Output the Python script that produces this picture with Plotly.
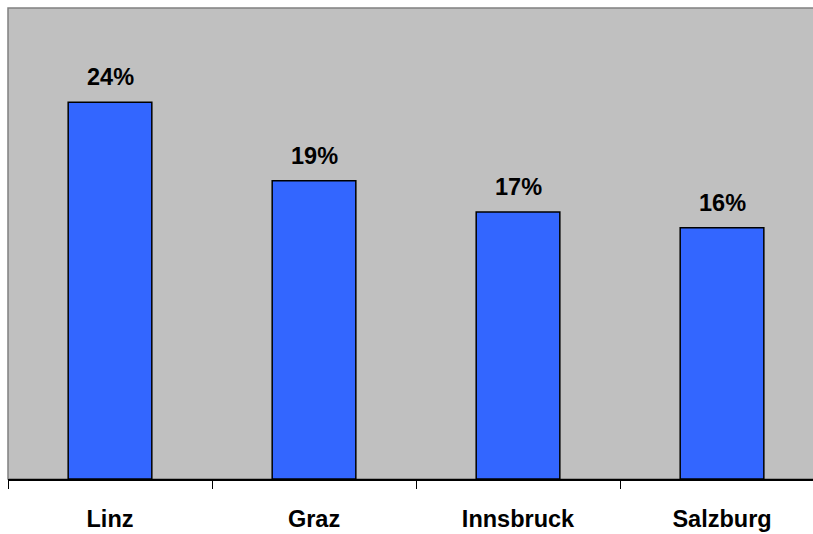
import plotly.graph_objects as go

categories = ["Linz", "Graz", "Innsbruck", "Salzburg"]
values = [0.24, 0.19, 0.17, 0.16]
value_labels = ["24%", "19%", "17%", "16%"]

fig = go.Figure()
fig.add_trace(go.Bar(
    x=categories, y=values, width=0.41,
    marker=dict(color="#3366FF", line=dict(color="black", width=1.5)),
    hoverinfo="skip",
))
for c, v, t in zip(categories, values, value_labels):
    fig.add_annotation(x=c, y=v, text=t, showarrow=False, yanchor="bottom",
                       yshift=10, font=dict(family="Liberation Sans, Arial", size=23.5, color="black", weight="bold"))

fig.add_shape(type="rect", xref="paper", yref="paper", x0=0, x1=1.02, y0=0, y1=1,
              line=dict(color="#808080", width=1.5), layer="below")

fig.update_layout(
    width=813, height=534, autosize=False,
    margin=dict(l=8, r=0, t=8, b=55),
    paper_bgcolor="white", plot_bgcolor="#C0C0C0",
    showlegend=False,
    font=dict(family="Liberation Sans, Arial", size=23.5, color="black", weight="bold"),
)
fig.update_xaxes(range=[-0.5, 3.446], tickson="boundaries", ticks="outside", ticklen=8,
                 tickcolor="black", tickwidth=1, showline=True, linecolor="black", linewidth=1.5,
                 showgrid=False, ticklabelstandoff=18, fixedrange=True)
fig.update_yaxes(range=[0, 0.30], showticklabels=False, showgrid=False, zeroline=False,
                 showline=False, fixedrange=True)

fig.write_html(
    "out.html",
    config={"displayModeBar": False, "responsive": False},
    post_script="document.documentElement.style.overflow='hidden';document.body.style.overflow='hidden';document.body.style.margin='0';",
)
